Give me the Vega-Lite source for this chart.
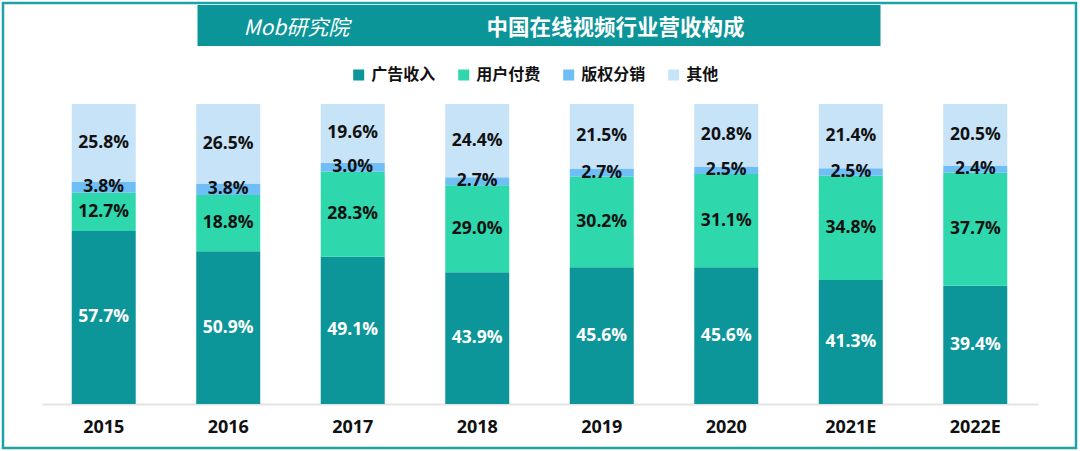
{
  "$schema": "https://vega.github.io/schema/vega-lite/v6.json",
  "width": 1073,
  "height": 445,
  "autosize": {"type": "none"},
  "padding": {"left": 3, "top": 3, "right": 4, "bottom": 3},
  "background": "white",
  "title": {
    "text": "中国在线视频行业营收构成",
    "anchor": "middle",
    "orient": "top",
    "frame": "group",
    "offset": 0,
    "baseline": "middle",
    "dy": 47,
    "dx": 76,
    "color": "white",
    "font": "Noto Sans CJK SC",
    "fontSize": 21.5,
    "fontWeight": "bold"
  },
  "data": {
    "values": [
      {"year": "2015", "cat": "广告收入", "idx": 1, "share": 0.577},
      {"year": "2015", "cat": "用户付费", "idx": 2, "share": 0.127},
      {"year": "2015", "cat": "版权分销", "idx": 3, "share": 0.038},
      {"year": "2015", "cat": "其他", "idx": 4, "share": 0.258},
      {"year": "2016", "cat": "广告收入", "idx": 1, "share": 0.509},
      {"year": "2016", "cat": "用户付费", "idx": 2, "share": 0.188},
      {"year": "2016", "cat": "版权分销", "idx": 3, "share": 0.038},
      {"year": "2016", "cat": "其他", "idx": 4, "share": 0.265},
      {"year": "2017", "cat": "广告收入", "idx": 1, "share": 0.491},
      {"year": "2017", "cat": "用户付费", "idx": 2, "share": 0.283},
      {"year": "2017", "cat": "版权分销", "idx": 3, "share": 0.030},
      {"year": "2017", "cat": "其他", "idx": 4, "share": 0.196},
      {"year": "2018", "cat": "广告收入", "idx": 1, "share": 0.439},
      {"year": "2018", "cat": "用户付费", "idx": 2, "share": 0.290},
      {"year": "2018", "cat": "版权分销", "idx": 3, "share": 0.027},
      {"year": "2018", "cat": "其他", "idx": 4, "share": 0.244},
      {"year": "2019", "cat": "广告收入", "idx": 1, "share": 0.456},
      {"year": "2019", "cat": "用户付费", "idx": 2, "share": 0.302},
      {"year": "2019", "cat": "版权分销", "idx": 3, "share": 0.027},
      {"year": "2019", "cat": "其他", "idx": 4, "share": 0.215},
      {"year": "2020", "cat": "广告收入", "idx": 1, "share": 0.456},
      {"year": "2020", "cat": "用户付费", "idx": 2, "share": 0.311},
      {"year": "2020", "cat": "版权分销", "idx": 3, "share": 0.025},
      {"year": "2020", "cat": "其他", "idx": 4, "share": 0.208},
      {"year": "2021E", "cat": "广告收入", "idx": 1, "share": 0.413},
      {"year": "2021E", "cat": "用户付费", "idx": 2, "share": 0.348},
      {"year": "2021E", "cat": "版权分销", "idx": 3, "share": 0.025},
      {"year": "2021E", "cat": "其他", "idx": 4, "share": 0.214},
      {"year": "2022E", "cat": "广告收入", "idx": 1, "share": 0.394},
      {"year": "2022E", "cat": "用户付费", "idx": 2, "share": 0.377},
      {"year": "2022E", "cat": "版权分销", "idx": 3, "share": 0.024},
      {"year": "2022E", "cat": "其他", "idx": 4, "share": 0.205}
    ]
  },
  "encoding": {
    "x": {
      "field": "year",
      "type": "ordinal",
      "sort": null,
      "scale": {"paddingInner": 0.486, "paddingOuter": 0.552},
      "axis": {
        "title": null,
        "orient": "bottom",
        "offset": -44,
        "domain": true,
        "domainColor": "#E4E4E4",
        "domainWidth": 2,
        "domainDash": [0, 39, 996, 1000],
        "ticks": false,
        "grid": false,
        "labelAngle": 0,
        "labelPadding": 14,
        "labelFont": "Open Sans",
        "labelFontSize": 18,
        "labelFontWeight": "bold",
        "labelColor": "#111111"
      }
    },
    "order": {"field": "idx", "type": "quantitative"}
  },
  "layer": [
    {
      "mark": {"type": "bar"},
      "encoding": {
        "y": {
          "field": "share",
          "type": "quantitative",
          "stack": "zero",
          "scale": {"domain": [-0.14667, 1.33667], "nice": false, "zero": false},
          "axis": {
            "orient": "left",
            "offset": -194,
            "values": [1.264],
            "domain": false,
            "grid": false,
            "labels": false,
            "ticks": true,
            "tickSize": -683,
            "tickWidth": 41,
            "tickColor": "#0C9598",
            "tickCap": "butt",
            "title": "Mob研究院",
            "titleAngle": 0,
            "titleX": 46,
            "titleY": 25,
            "titleAlign": "left",
            "titleBaseline": "middle",
            "titleColor": "white",
            "titleFont": "Noto Sans CJK SC",
            "titleFontSize": 21,
            "titleFontWeight": "normal",
            "titleFontStyle": "italic"
          }
        },
        "color": {
          "field": "cat",
          "type": "nominal",
          "scale": {
            "domain": ["广告收入", "用户付费", "版权分销", "其他"],
            "range": ["#0C9699", "#2ED8AC", "#6FBEF6", "#C7E3F8"]
          },
          "legend": {
            "title": null,
            "orient": "none",
            "legendX": 347.7,
            "legendY": 64,
            "direction": "horizontal",
            "symbolType": "square",
            "symbolSize": 121,
            "symbolStrokeWidth": 0,
            "symbolOpacity": 1,
            "labelFont": "Noto Sans CJK SC",
            "labelFontSize": 16,
            "labelFontWeight": "bold",
            "labelColor": "#111111",
            "labelOffset": 4.5,
            "columnPadding": 20,
            "padding": 0
          }
        }
      }
    },
    {
      "mark": {
        "type": "text",
        "font": "Open Sans",
        "fontSize": 17.5,
        "fontWeight": "bold",
        "align": "center",
        "baseline": "middle"
      },
      "encoding": {
        "y": {
          "field": "share",
          "type": "quantitative",
          "stack": "zero",
          "bandPosition": 0.5
        },
        "detail": {"field": "cat"},
        "text": {"field": "share", "type": "quantitative", "format": ".1%"},
        "color": {
          "condition": {"test": "datum.cat === '广告收入'", "value": "white"},
          "value": "#111111"
        }
      }
    }
  ],
  "config": {
    "view": {"stroke": "#1FA2A5", "strokeWidth": 2.5}
  }
}
